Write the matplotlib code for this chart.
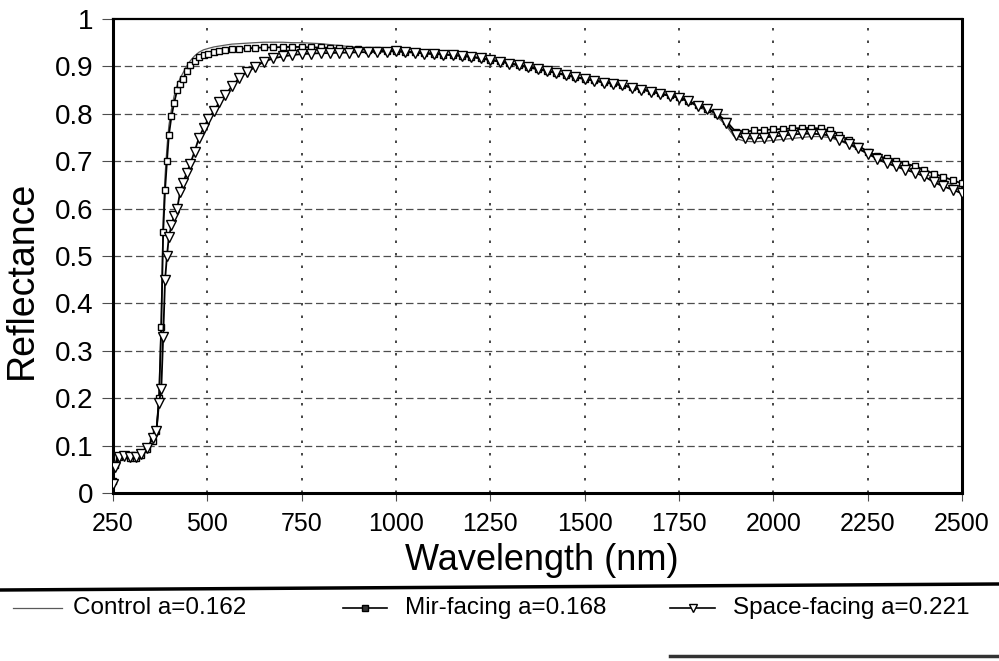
import matplotlib
matplotlib.use("Agg")
import matplotlib.pyplot as plt
from matplotlib.lines import Line2D

plt.rcParams['font.family'] = ['Liberation Sans', 'DejaVu Sans']

# wavelength samples (nm)
wl = [250, 255, 265, 280, 295, 310, 325, 340, 355, 365, 372, 378, 383, 388,
      393, 398, 405, 412, 420, 428, 436, 445, 455, 466, 478, 490, 503, 517,
      532, 548, 565, 585, 605, 625] + list(range(650, 2525, 25))

control = [0.030, 0.065, 0.078, 0.080, 0.075, 0.074, 0.080, 0.093, 0.112, 0.130,
           0.210, 0.380, 0.580, 0.670, 0.730, 0.775, 0.810, 0.838, 0.860, 0.875,
           0.887, 0.900, 0.912, 0.922, 0.930, 0.935, 0.938, 0.941, 0.943, 0.945,
           0.947, 0.948, 0.949, 0.950,
           0.951, 0.951, 0.951, 0.950, 0.950, 0.949, 0.948, 0.946, 0.944, 0.942,
           0.940, 0.938, 0.936, 0.935, 0.934, 0.932, 0.931, 0.929, 0.928, 0.926,
           0.925, 0.923, 0.921, 0.918, 0.915, 0.911, 0.907, 0.903, 0.899, 0.895,
           0.891, 0.887, 0.882, 0.878, 0.874, 0.870, 0.866, 0.863, 0.860, 0.855,
           0.851, 0.847, 0.842, 0.838, 0.833, 0.825, 0.815, 0.806, 0.795, 0.775,
           0.748, 0.742, 0.741, 0.742, 0.744, 0.746, 0.748, 0.750, 0.752, 0.752,
           0.750, 0.743, 0.735, 0.725, 0.716, 0.707, 0.700, 0.693, 0.686, 0.680,
           0.674, 0.665, 0.657, 0.650, 0.642]

mir = [0.025, 0.060, 0.075, 0.080, 0.074, 0.073, 0.080, 0.092, 0.110, 0.130,
       0.200, 0.350, 0.550, 0.640, 0.700, 0.755, 0.795, 0.823, 0.850, 0.862,
       0.873, 0.890, 0.902, 0.912, 0.920, 0.924, 0.927, 0.930, 0.932, 0.934,
       0.936, 0.937, 0.938, 0.939,
       0.940, 0.940, 0.941, 0.941, 0.941, 0.940, 0.940, 0.939, 0.938, 0.937,
       0.936, 0.935, 0.934, 0.933, 0.932, 0.931, 0.930, 0.928, 0.927, 0.925,
       0.924, 0.922, 0.920, 0.917, 0.914, 0.911, 0.907, 0.903, 0.899, 0.895,
       0.891, 0.887, 0.882, 0.878, 0.874, 0.871, 0.867, 0.864, 0.861, 0.856,
       0.852, 0.848, 0.843, 0.839, 0.835, 0.827, 0.818, 0.811, 0.800, 0.785,
       0.762, 0.762, 0.765, 0.766, 0.767, 0.768, 0.769, 0.770, 0.770, 0.769,
       0.765, 0.755, 0.745, 0.733, 0.720, 0.712, 0.706, 0.700, 0.695, 0.690,
       0.682, 0.674, 0.667, 0.660, 0.653]

space = [0.020, 0.055, 0.075, 0.079, 0.076, 0.075, 0.082, 0.094, 0.115, 0.130,
         0.190, 0.220, 0.330, 0.450, 0.500, 0.540, 0.565, 0.585, 0.600, 0.635,
         0.655, 0.675, 0.695, 0.720, 0.750, 0.770, 0.790, 0.805, 0.825, 0.840,
         0.858, 0.876, 0.888, 0.898,
         0.910, 0.917, 0.921, 0.924, 0.926, 0.927, 0.928, 0.928, 0.929, 0.929,
         0.930, 0.930, 0.931, 0.931, 0.932, 0.930, 0.929, 0.927, 0.926, 0.925,
         0.924, 0.922, 0.920, 0.917, 0.913, 0.910, 0.906, 0.902, 0.898, 0.894,
         0.890, 0.886, 0.881, 0.877, 0.873, 0.870, 0.866, 0.863, 0.860, 0.855,
         0.851, 0.847, 0.842, 0.838, 0.834, 0.826, 0.817, 0.810, 0.800, 0.780,
         0.755, 0.748, 0.748, 0.750, 0.752, 0.754, 0.756, 0.758, 0.758, 0.757,
         0.754, 0.745, 0.737, 0.727, 0.716, 0.705, 0.696, 0.689, 0.682, 0.676,
         0.668, 0.656, 0.647, 0.640, 0.632]

labels = ['Control a=0.162', 'Mir-facing a=0.168', 'Space-facing a=0.221']
xticks = [250, 500, 750, 1000, 1250, 1500, 1750, 2000, 2250, 2500]
yticks = [0, 0.1, 0.2, 0.3, 0.4, 0.5, 0.6, 0.7, 0.8, 0.9, 1]
ytick_labels = ['0', '0.1', '0.2', '0.3', '0.4', '0.5', '0.6', '0.7', '0.8', '0.9', '1']

W, H = 999, 661
fig = plt.figure(figsize=(W / 100, H / 100), dpi=100)
ax = fig.add_axes([113 / W, 1 - 493 / H, (962 - 113) / W, (493 - 19) / H])

ax.plot(wl, control, color='0.35', lw=0.9, zorder=3)
ax.plot(wl, mir, color='black', lw=1.3, marker='s', ms=4.5, mfc='white',
        mec='black', mew=1.0, zorder=4)
ax.plot(wl, space, color='black', lw=1.3, marker='v', ms=7, mfc='white',
        mec='black', mew=1.0, zorder=5)

ax.set_xlim(250, 2500)
ax.set_ylim(0, 1)
ax.set_xticks(xticks)
ax.set_xticklabels([str(t) for t in xticks], fontsize=18)
ax.set_yticks(yticks)
ax.set_yticklabels(ytick_labels, fontsize=20)
ax.tick_params(axis='x', length=6, width=0.8, color='0.3', pad=8)
ax.tick_params(axis='y', length=8, width=0.8, color='0.3', pad=6)

# grid
for y in yticks[1:-1]:
    ax.axhline(y, color='0.3', lw=0.9, ls=(0, (6, 3)), zorder=1)
for x in xticks[1:-1]:
    ax.axvline(x, color='0.15', lw=1.2, ls=(0, (1.5, 6)), zorder=1)

for side in ['left', 'bottom', 'right']:
    ax.spines[side].set_linewidth(2.2)
ax.spines['top'].set_linewidth(1.6)

fig.text(22 / W, 1 - 280 / H, 'Reflectance', rotation=90, fontsize=27,
         ha='center', va='center')
fig.text(542 / W, 1 - 560 / H, 'Wavelength (nm)', fontsize=26,
         ha='center', va='center')

# separator lines
fig.add_artist(Line2D([0, 1], [1 - 590 / H, 1 - 584 / H], color='black', lw=2.5))
fig.add_artist(Line2D([670 / W, 1], [1 - 656 / H, 1 - 656 / H], color='0.2', lw=2.5))

# legend drawn below the separator
ly = 1 - 608 / H
samples = [(13, 62, None, '0.35', 0.9), (343, 387, 's', 'black', 1.2),
           (670, 715, 'v', 'black', 1.2)]
text_x = [73, 405, 733]
for (x0, x1, mk, col, lw), tx, lab in zip(samples, text_x, labels):
    fig.add_artist(Line2D([x0 / W, x1 / W], [ly, ly], color=col, lw=lw))
    if mk == 's':
        fig.add_artist(Line2D([(x0 + x1) / 2 / W], [ly], marker='s', ms=4,
                              mfc='0.2', mec='black', ls='none'))
    elif mk == 'v':
        fig.add_artist(Line2D([(x0 + x1) / 2 / W], [ly], marker='v', ms=6,
                              mfc='white', mec='black', ls='none'))
    fig.text(tx / W, ly, lab, fontsize=17.5, ha='left', va='center')

fig.savefig('out.png', dpi=100)
